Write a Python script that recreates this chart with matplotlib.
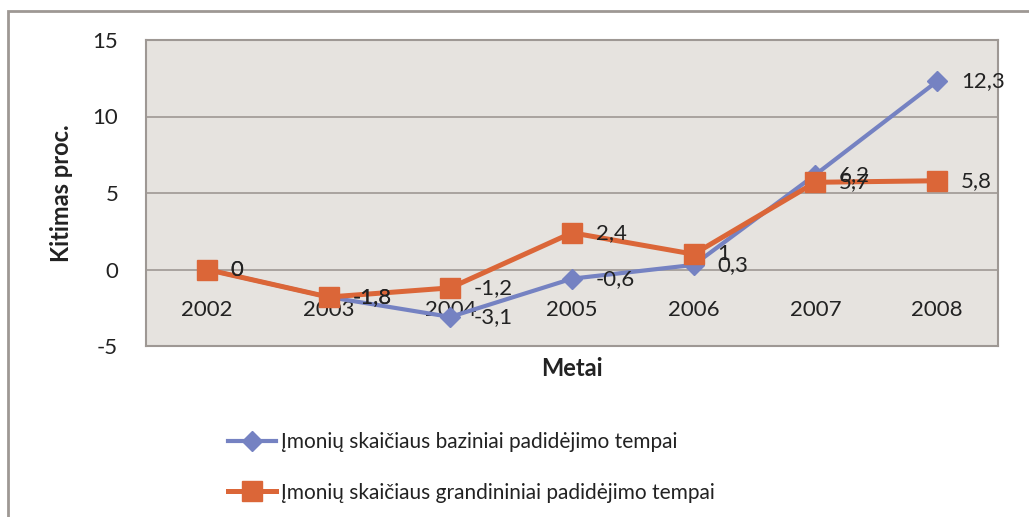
import matplotlib.pyplot as plt
from matplotlib.patches import Rectangle

plt.rcParams['font.family'] = ['Lato', 'DejaVu Sans']
plt.rcParams['axes.unicode_minus'] = False

years = ['2002', '2003', '2004', '2005', '2006', '2007', '2008']
bazinis = [0, -1.8, -3.1, -0.6, 0.3, 6.2, 12.3]
grandininis = [0, -1.8, -1.2, 2.4, 1, 5.7, 5.8]
name_baz = 'Įmonių skaičiaus baziniai padidėjimo tempai'
name_gran = 'Įmonių skaičiaus grandininiai padidėjimo tempai'

blue = '#7582C2'
orange = '#DB6638'
edge = '#9E9894'
txt = '#222222'

fig = plt.figure(figsize=(10.29, 5.17), dpi=100)
# outer chart border (extends beyond the image on right/bottom)
fig.patches.append(Rectangle((8 / 1029, -0.1), 1.2, 1 - 11 / 517 + 0.1,
                             transform=fig.transFigure, fill=False,
                             edgecolor=edge, linewidth=2))

ax = fig.add_axes([146 / 1029, 1 - 346 / 517, 852 / 1029, 306 / 517])
ax.set_facecolor('#E6E3DF')
for s in ax.spines.values():
    s.set_color(edge)
    s.set_linewidth(1.5)

x = list(range(len(years)))
ax.plot(x, bazinis, color=blue, lw=3, marker='D', ms=10, label=name_baz, zorder=3)
ax.plot(x, grandininis, color=orange, lw=3.6, marker='s', ms=14, label=name_gran, zorder=4)

for xi, v in zip(x, bazinis):
    ax.annotate(str(v).replace('.', ','), (xi, v), xytext=(17, 0),
                textcoords='offset points', ha='left', va='center',
                fontsize=16, color=txt, zorder=5)
for xi, v in zip(x, grandininis):
    ax.annotate(str(v).replace('.', ','), (xi, v), xytext=(17, 0),
                textcoords='offset points', ha='left', va='center',
                fontsize=16, color=txt, zorder=5)

ax.set_xlim(-0.5, 6.5)
ax.set_ylim(-5, 15)
ax.set_yticks([-5, 0, 5, 10, 15])
ax.tick_params(axis='y', length=0, pad=20, labelsize=16, labelcolor=txt)
ax.set_xticks([])
ax.yaxis.grid(True, color=edge, lw=1.2)
ax.set_axisbelow(True)

# category labels sit under the zero line
for xi, yr in zip(x, years):
    ax.annotate(yr, (xi, 0), xytext=(0, -22), textcoords='offset points',
                ha='center', va='top', fontsize=16, color=txt, zorder=2)

ax.set_ylabel('Kitimas proc.', fontsize=17, fontweight='bold', color=txt, labelpad=14)
ax.set_xlabel('Metai', fontsize=17, fontweight='bold', color=txt, labelpad=8)

fig.legend(loc='upper left', bbox_to_anchor=(220 / 1029, 1 - 424 / 517),
           frameon=False, fontsize=15, handlelength=2.3, handletextpad=0.25,
           labelspacing=1.45, borderaxespad=0, labelcolor=txt)

fig.savefig('out.png', dpi=100)
